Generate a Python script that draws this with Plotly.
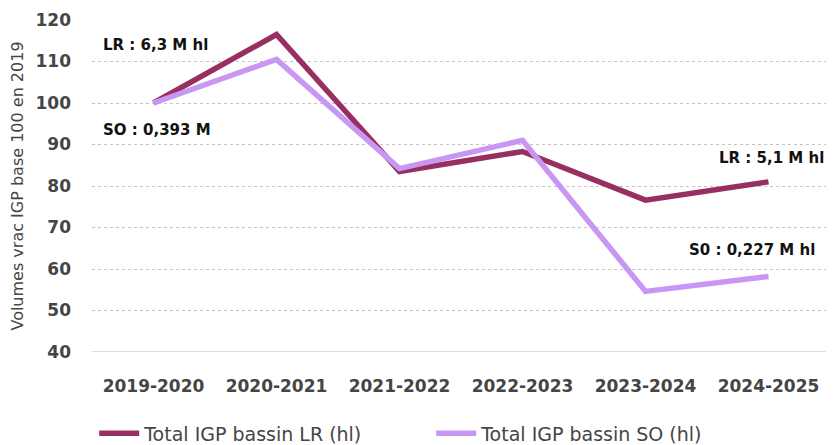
import plotly.graph_objects as go

campagnes = ["2019-2020", "2020-2021", "2021-2022", "2022-2023", "2023-2024", "2024-2025"]
lr_values = [100, 116.5, 83.5, 88.3, 76.6, 81.0]
so_values = [100, 110.5, 84.2, 91.0, 54.6, 58.2]
lr_name = "Total IGP bassin LR (hl)"
so_name = "Total IGP bassin SO (hl)"
y_ticks = [40, 50, 60, 70, 80, 90, 100, 110, 120]

LR_COLOR = "#982F62"
SO_COLOR = "#C897F4"
FONT = "DejaVu Sans"
GREY = "#454545"

fig = go.Figure()
fig.add_trace(go.Scatter(x=campagnes, y=lr_values, mode="lines", name=lr_name,
                         line=dict(color=LR_COLOR, width=5.5)))
fig.add_trace(go.Scatter(x=campagnes, y=so_values, mode="lines", name=so_name,
                         line=dict(color=SO_COLOR, width=5.5)))

ann_font = dict(family=FONT, size=15, color="#111111", weight="bold")
annotations = [
    dict(text="LR : 6,3 M hl", x=0.012, y=114.0),
    dict(text="SO : 0,393 M", x=0.012, y=93.5),
    dict(text="LR : 5,1 M hl", x=0.847, y=86.8),
    dict(text="S0 : 0,227 M hl", x=0.806, y=64.6),
]
for a in annotations:
    fig.add_annotation(**a, xanchor="left", showarrow=False, font=ann_font,
                       xref="paper", yref="y")

fig.update_layout(
    width=826, height=437,
    margin=dict(l=84, r=4, t=12, b=93, autoexpand=False),
    paper_bgcolor="white", plot_bgcolor="white",
    font=dict(family=FONT, color=GREY),
    showlegend=True,
    legend=dict(orientation="h", x=0.003, xanchor="left", y=-0.245, yanchor="middle",
                font=dict(family=FONT, size=19, color=GREY),
                itemwidth=40, tracegroupgap=0, entrywidth=282),
)
fig.update_xaxes(
    type="category", range=[-0.5, 5.5], showgrid=False, showline=False, zeroline=False,
    tickfont=dict(family=FONT, size=17, color=GREY, weight="bold"),
    ticks="", ticklabelstandoff=22, automargin=False,
)
fig.update_yaxes(
    range=[40, 120], tickvals=y_ticks, showgrid=True, gridcolor="#C4C4C4", griddash="dot",
    gridwidth=1, zeroline=False, showline=False,
    tickfont=dict(family=FONT, size=17, color=GREY, weight="bold"),
    ticklabelstandoff=20, automargin=False,
    title=dict(text="Volumes vrac IGP base 100 en 2019", standoff=14,
               font=dict(family=FONT, size=16, color=GREY)),
)
fig.add_shape(type="line", xref="paper", yref="y", x0=0, x1=1, y0=40, y1=40,
              line=dict(color="#D0D0D0", width=1.5), layer="below")

fig.write_html("out.html")
